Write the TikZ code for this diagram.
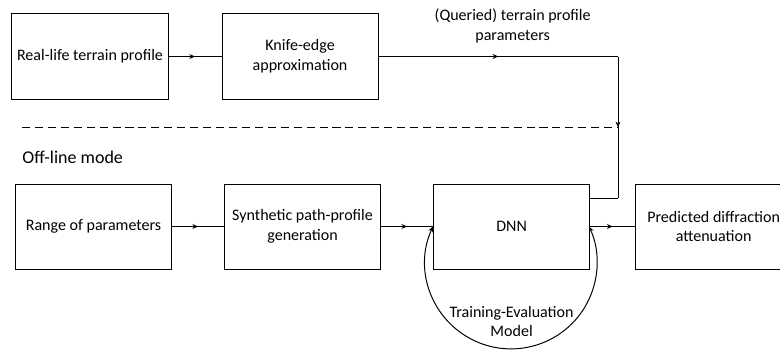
\documentclass[tikz,border=0pt]{standalone}
\usepackage{fontspec}
\setmainfont{Carlito}
\usetikzlibrary{arrows.meta,positioning,decorations.markings}

\begin{document}
\begin{tikzpicture}[
  x=0.025cm, y=-0.025cm,
  font=\fontsize{11.4}{14.2}\selectfont,
  line width=0.7pt,
  box/.style={draw, minimum width=3.9cm, minimum height=2.125cm,
              align=center, inner sep=1pt},
  midarr/.style={postaction={decorate},
                 decoration={markings, mark=at position 0.5 with
                             {\arrow{Stealth[length=4pt, width=3.5pt]}}}},
  loop/.style={{Stealth[length=4pt, width=3.5pt]}-{Stealth[length=4pt, width=3.5pt]}},
  note/.style={align=center},
]
\useasboundingbox (0,0) rectangle (780,350);

%% --- Nodes ---
\node[box] (real) at (90,56.5) {Real-life terrain profile};
\node[box, right=1.325cm of real] (knife) {Knife-edge\\approximation};

\node[box] (range) at (93.5,226.5) {Range of parameters};
\node[box, right=1.3cm of range] (synth) {Synthetic path-profile\\generation};
\node[box, right=1.3cm of synth] (dnn) {DNN};
\node[box, right=1.125cm of dnn] (pred) {Predicted diffraction\\attenuation};

\coordinate (turn) at (618,56.5);
\coordinate (back) at (618,198);
\coordinate (dashL) at (22,127);

%% --- Arrows ---
\draw[midarr] (real) -- (knife);
\draw[midarr] (knife) -- node[note, above, pos=0.56, yshift=0.2cm]
      {(Queried) terrain profile\\parameters} (turn);
\draw[midarr] (turn) -- (back);
\draw (back) -- (back -| dnn.east);

\draw[midarr] (range) -- (synth);
\draw[midarr] (synth) -- (dnn);
\draw[midarr] (dnn) -- (pred);

\draw[loop] (dnn.west) arc[start angle=155, end angle=385, radius=2.15cm];
\node[note, below=0.78cm of dnn] (train) {Training-Evaluation\\Model};

%% --- Mode separator ---
\draw[dash pattern=on 5.7pt off 3.5pt] (dashL) -- (dashL -| turn);
\node[anchor=west, inner sep=0pt, font=\fontsize{12.8}{14}\selectfont]
      (mode) at (22,157) {Off-line mode};

\end{tikzpicture}
\end{document}
